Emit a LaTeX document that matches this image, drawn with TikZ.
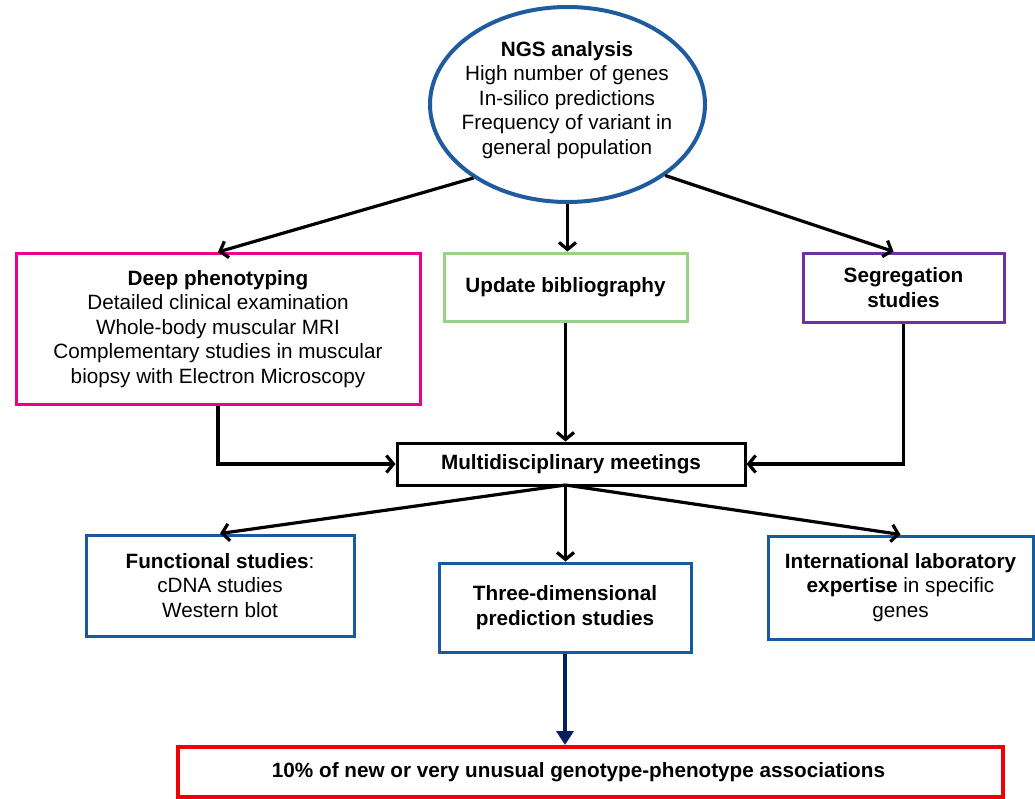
\documentclass[tikz,border=0pt]{standalone}
\usepackage{fontspec}
\setmainfont{Liberation Sans}
\usetikzlibrary{shapes.geometric,arrows.meta}
\definecolor{ngsblue}{RGB}{31,92,158}
\definecolor{boxblue}{RGB}{22,90,160}
\definecolor{deeppink}{RGB}{236,0,140}
\definecolor{biblgreen}{RGB}{150,210,135}
\definecolor{segpurple}{RGB}{112,48,160}
\definecolor{arrnavy}{RGB}{0,32,96}
\definecolor{resred}{RGB}{240,0,0}
\begin{document}
\begin{tikzpicture}[x=1pt, y=-1pt,
  txt/.style={align=center, inner sep=0pt, font={\fontsize{20.7}{24.5}\selectfont}},
  pbox/.style={txt, draw, line width=3pt, fill=white},
  flow/.style={line width=3.2pt, -{Straight Barb[length=7pt,width=17pt]}}]
\useasboundingbox (0,0) rectangle (1035,798);
\node[ellipse, draw=ngsblue, line width=4pt, fill=white, minimum width=275pt, minimum height=195pt, inner sep=0pt] (ngs) at (567.5,104.5) {};
\node[txt] (ngstext) at (567,100) {\textbf{NGS analysis}\\High number of genes\\In-silico predictions\\Frequency of variant in\\general population};
\node[pbox, draw=deeppink, minimum width=404pt, minimum height=151pt] (deep) at (218,329) {\textbf{Deep phenotyping}\\Detailed clinical examination\\Whole-body muscular MRI\\Complementary studies in muscular\\biopsy with Electron Microscopy};
\node[pbox, draw=biblgreen, minimum width=243pt, minimum height=68pt] (update) at (565.5,287) {\textbf{Update bibliography}};
\node[pbox, draw=segpurple, minimum width=201pt, minimum height=69pt] (seg) at (903.5,287.5) {\textbf{Segregation}\\\textbf{studies}};
\node[pbox, draw=black, minimum width=348pt, minimum height=42pt] (multi) at (571,464) {\textbf{Multidisciplinary meetings}};
\node[pbox, draw=boxblue, minimum width=268pt, minimum height=101pt] (func) at (220,585.5) {\textbf{Functional studies}:\\cDNA studies\\Western blot};
\node[pbox, draw=boxblue, minimum width=252pt, minimum height=89pt] (threed) at (565,607.5) {\textbf{Three-dimensional}\\\textbf{prediction studies}};
\node[pbox, draw=boxblue, minimum width=265pt, minimum height=103pt] (intl) at (900.5,587.5) {\textbf{International laboratory}\\\textbf{expertise} in specific\\genes};
\node[pbox, draw=resred, line width=4pt, minimum width=825pt, minimum height=50pt] (result) at (590.5,772) {\textbf{10\% of new or very unusual genotype-phenotype associations}\hspace*{24pt}};
\coordinate (msplit) at (565.5,485);
\draw[flow] (ngs.218) -- (deep.north);
\draw[flow] (ngs.south) -- (ngs.south |- update.north);
\draw[flow] (ngs.324) -- ([xshift=-10pt]seg.north);
\draw[flow] (deep.south) |- (multi.west);
\draw[flow] (update.south) -- (update.south |- multi.north);
\draw[flow] (seg.south) |- (multi.east);
\draw[flow] (msplit) -- (func.north);
\draw[flow] (msplit) -- (msplit |- threed.north);
\draw[flow] (msplit) -- (intl.north);
\draw[line width=4.5pt, arrnavy, -{Triangle[length=14pt,width=17pt]}] (threed.south) -- (threed.south |- result.north);
\end{tikzpicture}
\end{document}
